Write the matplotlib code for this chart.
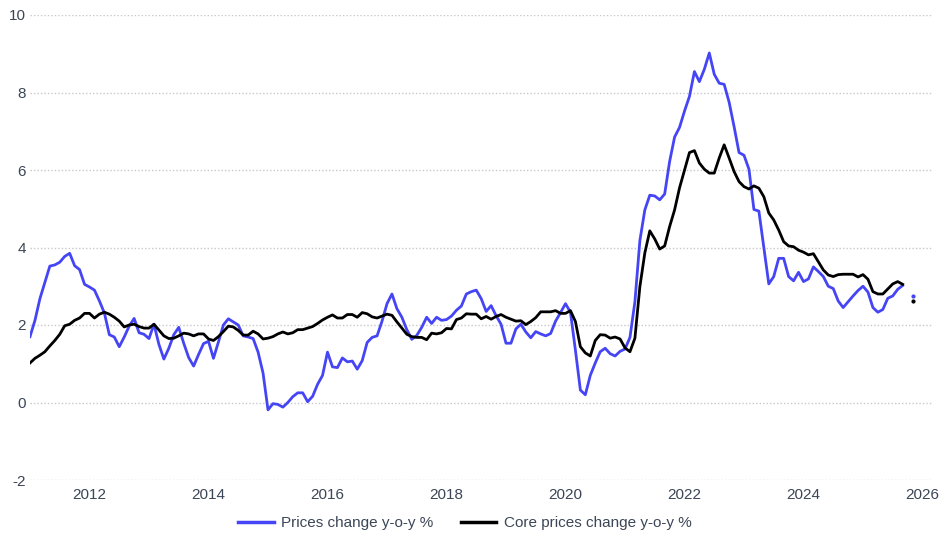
import numpy as np
import matplotlib
matplotlib.use("Agg")
import matplotlib.pyplot as plt

# monthly y-o-y change, Jan 2011 .. Nov 2025 (Oct 2025 not published)
start_year = 2011
prices = [
    1.70, 2.12, 2.68, 3.10, 3.52, 3.55, 3.62, 3.77, 3.85, 3.53, 3.43, 3.05,  # 2011
    2.98, 2.90, 2.62, 2.31, 1.75, 1.69, 1.44, 1.69, 1.97, 2.17, 1.80, 1.76,  # 2012
    1.65, 2.02, 1.50, 1.12, 1.40, 1.75, 1.94, 1.53, 1.16, 0.94, 1.24, 1.52,  # 2013
    1.58, 1.14, 1.56, 2.00, 2.16, 2.08, 2.00, 1.72, 1.69, 1.65, 1.30, 0.76,  # 2014
    -0.19, -0.03, -0.05, -0.12, 0.00, 0.15, 0.25, 0.25, 0.02, 0.16, 0.47, 0.70,  # 2015
    1.30, 0.92, 0.90, 1.15, 1.05, 1.07, 0.86, 1.08, 1.55, 1.68, 1.72, 2.10,  # 2016
    2.55, 2.80, 2.42, 2.20, 1.88, 1.63, 1.73, 1.94, 2.20, 2.04, 2.20, 2.12,  # 2017
    2.14, 2.23, 2.38, 2.49, 2.80, 2.86, 2.90, 2.68, 2.35, 2.50, 2.24, 2.02,  # 2018
    1.53, 1.53, 1.90, 2.02, 1.82, 1.67, 1.83, 1.77, 1.72, 1.78, 2.10, 2.32,  # 2019
    2.55, 2.33, 1.35, 0.32, 0.20, 0.70, 1.02, 1.31, 1.40, 1.26, 1.20, 1.32,  # 2020
    1.38, 1.68, 2.60, 4.18, 4.97, 5.35, 5.33, 5.23, 5.38, 6.22, 6.85, 7.10,  # 2021
    7.52, 7.90, 8.54, 8.28, 8.60, 9.02, 8.47, 8.24, 8.21, 7.75, 7.12, 6.45,  # 2022
    6.38, 6.02, 4.98, 4.94, 3.99, 3.06, 3.25, 3.72, 3.72, 3.25, 3.14, 3.36,  # 2023
    3.12, 3.19, 3.50, 3.38, 3.25, 3.00, 2.94, 2.62, 2.45, 2.60, 2.75, 2.89,  # 2024
    3.00, 2.85, 2.45, 2.33, 2.40, 2.69, 2.75, 2.92, 3.02, np.nan, 2.75,       # 2025
]
core = [
    1.02, 1.14, 1.22, 1.31, 1.46, 1.60, 1.76, 1.98, 2.02, 2.12, 2.18, 2.30,  # 2011
    2.30, 2.18, 2.28, 2.33, 2.28, 2.20, 2.10, 1.95, 2.00, 2.02, 1.96, 1.92,  # 2012
    1.92, 2.02, 1.87, 1.72, 1.65, 1.66, 1.72, 1.79, 1.77, 1.72, 1.77, 1.77,  # 2013
    1.64, 1.60, 1.70, 1.83, 1.97, 1.95, 1.86, 1.74, 1.74, 1.84, 1.77, 1.64,  # 2014
    1.66, 1.70, 1.77, 1.82, 1.77, 1.80, 1.88, 1.88, 1.92, 1.96, 2.04, 2.13,  # 2015
    2.20, 2.26, 2.18, 2.18, 2.27, 2.27, 2.20, 2.32, 2.29, 2.21, 2.18, 2.23,  # 2016
    2.28, 2.25, 2.08, 1.92, 1.76, 1.70, 1.68, 1.68, 1.62, 1.79, 1.77, 1.80,  # 2017
    1.91, 1.90, 2.14, 2.18, 2.29, 2.28, 2.28, 2.16, 2.22, 2.15, 2.22, 2.27,  # 2018
    2.20, 2.15, 2.10, 2.11, 2.01, 2.09, 2.19, 2.34, 2.34, 2.34, 2.37, 2.30,  # 2019
    2.30, 2.37, 2.09, 1.44, 1.28, 1.20, 1.60, 1.75, 1.74, 1.66, 1.69, 1.64,  # 2020
    1.41, 1.31, 1.66, 2.99, 3.86, 4.43, 4.22, 3.96, 4.04, 4.54, 4.97, 5.54,  # 2021
    6.00, 6.45, 6.50, 6.18, 6.02, 5.92, 5.92, 6.31, 6.65, 6.31, 5.96, 5.70,  # 2022
    5.57, 5.51, 5.59, 5.53, 5.31, 4.89, 4.71, 4.45, 4.15, 4.04, 4.02, 3.93,  # 2023
    3.88, 3.81, 3.84, 3.63, 3.42, 3.29, 3.25, 3.30, 3.31, 3.31, 3.31, 3.24,  # 2024
    3.30, 3.18, 2.86, 2.80, 2.80, 2.93, 3.06, 3.12, 3.05, np.nan, 2.62,       # 2025
]
labels = ["Prices change y-o-y %", "Core prices change y-o-y %"]
colors = ["#4545f5", "#000000"]
title = "US inflation"

plt.rcParams["font.family"] = ["Liberation Sans", "DejaVu Sans"]
plt.rcParams["axes.unicode_minus"] = False
text_color = "#3b4656"

x = start_year + np.arange(len(prices)) / 12.0

fig = plt.figure(figsize=(9.44, 5.36), dpi=100)
ax = fig.add_axes([30 / 944, 56 / 536, 903 / 944, 465 / 536])

for series, lab, col in zip([prices, core], labels, colors):
    ax.plot(x, series, color=col, lw=2.0, label=lab, solid_joinstyle="round",
            marker="o", markersize=2.0, markevery=[len(series) - 1])

ax.set_xlim(2011.0, 2011.0 + 903 / 59.5)
ax.set_ylim(-2, 10)
ax.set_xticks(range(2012, 2027, 2))
ax.set_yticks(range(-2, 11, 2))
ax.grid(axis="y", linestyle=(0, (1, 1.5)), color="#c8c8c8", lw=1.0)
ax.grid(axis="x", visible=False)
for s in ax.spines.values():
    s.set_visible(False)
ax.tick_params(axis="both", length=0, labelsize=11, colors=text_color)
ax.tick_params(axis="y", pad=3)
ax.tick_params(axis="x", pad=6)

# title sits mostly above the visible area, as in the source crop
fig.text(476 / 944, 1 - 0.5 / 536, title, ha="center", va="baseline",
         fontsize=14, color="#888888")

handles, labs = ax.get_legend_handles_labels()
leg = fig.legend(handles, labs, loc="center", bbox_to_anchor=(465 / 944, 13 / 536),
                 ncol=2, frameon=False, fontsize=11, handlelength=2.3,
                 handletextpad=0.5, columnspacing=1.8, labelcolor=text_color)
for h in leg.legend_handles:
    h.set_marker("")
    h.set_linewidth(2.5)

fig.savefig("out.png", dpi=100)
